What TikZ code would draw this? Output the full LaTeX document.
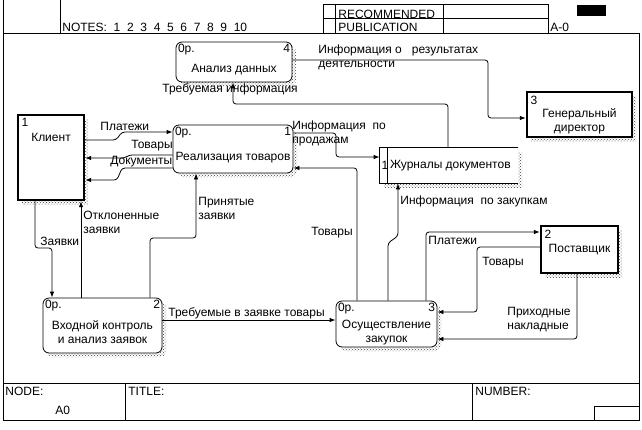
\documentclass[tikz,border=0pt]{standalone}
\usepackage{fontspec}
\setmainfont{Liberation Sans}
\usetikzlibrary{arrows.meta,patterns,shadows}

\begin{document}
\begin{tikzpicture}[x=1pt,y=-1pt,font=\fontsize{12}{14}\selectfont,line width=0.8pt,
	arr/.style={-{Latex[length=6pt,width=4.5pt]},rounded corners=3pt},
	hatch/.style={drop shadow={shadow xshift=4pt,shadow yshift=-4pt,opacity=1,pattern=crosshatch dots,pattern color=black!75}},
	num/.style={inner sep=2pt},
	op/.style={draw,fill=white,rounded corners=6pt,hatch,inner sep=0pt,
		label={[num,anchor=north west]north west:0р.},
		label={[num,anchor=north east]north east:#1}},
	ext/.style={draw,fill=white,line width=2.4pt,hatch,inner sep=0pt,
		label={[num,inner sep=4.5pt,anchor=north west]north west:#1}},
	lbl/.style={anchor=west,inner sep=0pt,align=left},
	title/.style={anchor=base west,inner sep=0pt}]
			\useasboundingbox (0,0) rectangle (642,429);
			\draw (3,0) -- (3,420) -- (639,420) -- (639,33);
			\draw (3,33) -- (639,33);
			\draw (60,0) -- (60,33);
			\draw (323,4) rectangle (548,33);
			\draw (323,18) -- (548,18);
			\draw (335,4) -- (335,33);
			\draw (443,4) -- (443,33);
			\fill (577,5) rectangle (606,16);
			\node[title] (notes) at (62,31) {NOTES:\ \ 1\ \ 2\ \ 3\ \ 4\ \ 5\ \ 6\ \ 7\ \ 8\ \ 9\ \ 10};
			\node[title] (recom) at (338,18) {RECOMMENDED};
			\node[title] (publ) at (338,31) {PUBLICATION};
			\node[title] (aref) at (550,31) {A-0};
			\draw (3,383) -- (639,383);
			\draw (125,383) -- (125,420);
			\draw (472,383) -- (472,420);
			\draw (594,406) rectangle (639,420);
			\node[title] (nodelbl) at (5,395) {NODE:};
			\node[title] (nodeval) at (55,414) {A0};
			\node[title] (titlelbl) at (128,395) {TITLE:};
			\node[title] (numlbl) at (475,395) {NUMBER:};

			\node[op=4,minimum width=116pt,minimum height=40pt,label={[yshift=-8pt]center:Анализ данных}](anal) at (234,62){};
			\node[op=1,minimum width=120pt,minimum height=48pt,label={[yshift=-9pt]center:Реализация товаров}](real) at (233,149){};
			\node[op=2,minimum width=119pt,minimum height=55pt,label={[align=center,yshift=-7pt]center:Входной контроль\\и анализ заявок}](vhod) at (102.5,325.5){};
			\node[op=3,minimum width=101pt,minimum height=46pt,label={[align=center,yshift=-9pt]center:Осуществление\\закупок}](zak) at (386.5,324){};
			\node[ext=1,minimum width=66pt,minimum height=85pt,label={[yshift=20pt]center:Клиент}](client) at (51,157.5){};
			\node[ext=3,minimum width=105pt,minimum height=45pt,label={[align=center,yshift=-7pt]center:Генеральный\\директор}](dir) at (579.5,114.5){};
			\node[ext=2,minimum width=77pt,minimum height=47pt,label={center:Поставщик}](post) at (579.5,249.5){};
			\node[fill=white,hatch,minimum width=138pt,minimum height=35pt,inner sep=0pt](jour) at (449,165.5){};
			\draw (jour.north east) -- (jour.north west) -- (jour.south west) -- (jour.south east);
			\draw ([xshift=8pt]jour.north west) -- ([xshift=8pt]jour.south west);
			\node[anchor=west,inner sep=1.5pt](jnum) at (jour.west){1};
			\node[anchor=west,inner sep=0pt](jtxt) at ([xshift=10pt]jour.west){Журналы документов};

			\draw[arr] (anal.east |- 0,60) -| (488,118) -- (dir.west |- 0,118);
			\draw[arr] (jour.north -| 448,0) |- (233,104) -- (anal.south -| 233,0);
			\draw[arr] (client.east |- 0,140) -- (116,140) -- (122,132) -- (real.west |- 0,132);
			\draw[arr] (real.west |- 0,155) -- (129,155) -- (125,158) -- (client.east |- 0,158);
			\draw[arr] (real.west |- 0,168) -- (122,168) -- (117,180) -- (client.east |- 0,180);
			\draw[arr] (client.south -| 35,0) |- (52,248) -- (vhod.north -| 52,0);
			\draw[arr] (vhod.north -| 81,0) -- (client.south -| 81,0);
			\draw[arr] (vhod.north -| 150,0) |- (196,238) -- (real.south -| 196,0);
			\draw[arr] (vhod.east |- 0,320) -- (zak.west |- 0,320);
			\draw[arr] (zak.north -| 357,0) |- (real.east |- 0,168);
			\draw[arr] (real.east |- 0,133) -| (336,157) -- (jour.west |- 0,157);
			\draw[arr] (zak.north -| 388,0) -- (388,243) -- (398,236) -- (jour.south -| 398,0);
			\draw[arr] (zak.north -| 426,0) |- (post.west |- 0,232);
			\draw[arr] (post.west |- 0,247) -| (477,312) -- (zak.east |- 0,312);
			\draw[arr] (post.south -| 577,0) |- (zak.east |- 0,339);

			\node[lbl](l1) at (318,57) {Информация о\ \ \ результатах\\деятельности};
			\node[lbl](l2) at (162,89) {Требуемая информация};
			\node[lbl](l3) at (100,126) {Платежи};
			\node[lbl](l4) at (131,146) {Товары};
			\node[lbl](l5) at (110,162) {Документы};
			\node[lbl](l6) at (292,133) {Информация\ \ по\\продажам};
			\node[lbl](l7) at (40,241) {Заявки};
			\node[lbl](l8) at (83,222) {Отклоненные\\заявки};
			\node[lbl](l9) at (198,208) {Принятые\\заявки};
			\node[lbl](l10) at (168,313) {Требуемые в заявке товары};
			\node[lbl](l11) at (311,233) {Товары};
			\node[lbl](l12) at (400,201) {Информация\ \ по закупкам};
			\node[lbl](l13) at (428,240) {Платежи};
			\node[lbl](l14) at (482,263) {Товары};
			\node[lbl](l15) at (507,320) {Приходные\\накладные};
\end{tikzpicture}
\end{document}
